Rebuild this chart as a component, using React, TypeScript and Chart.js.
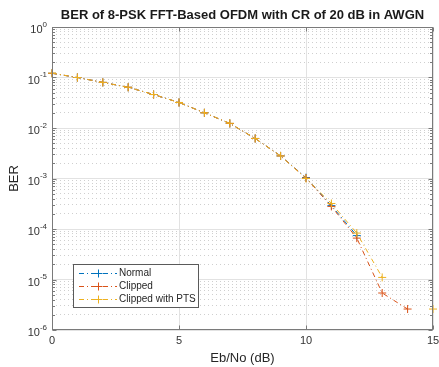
import React, { useEffect, useRef } from 'react';
import { Chart, registerables } from 'chart.js';

Chart.register(...registerables);

// ---- data ----
const ebNo = [0, 1, 2, 3, 4, 5, 6, 7, 8, 9, 10, 11, 12, 13, 14, 15];
const berNormal = [0.121, 0.1, 0.08, 0.064, 0.046, 0.032, 0.02, 0.0123, 0.0062, 0.0028, 0.00104, 0.00029, 0.000074, null, null, null];
const berClipped = [0.121, 0.1, 0.08, 0.064, 0.046, 0.032, 0.02, 0.0123, 0.0062, 0.0028, 0.00102, 0.00028, 0.000066, 0.0000054, 0.0000026, null];
const berPts = [0.122, 0.1, 0.08, 0.064, 0.046, 0.032, 0.02, 0.0124, 0.0062, 0.0028, 0.001, 0.00032, 0.000083, 0.000011, null, 0.0000026];

const seriesNames = ['Normal', 'Clipped', 'Clipped with PTS'];
const seriesColors = ['#0072BD', '#D95319', '#EDB120'];

const xTickValues = [0, 5, 10, 15];
const yTickExponents = [-6, -5, -4, -3, -2, -1, 0];
const yMinorMultipliers = [2, 3, 4, 5, 6, 7, 8, 9];

const titleText = 'BER of 8-PSK FFT-Based OFDM with CR of 20 dB in AWGN';
const xLabel = 'Eb/No (dB)';
const yLabel = 'BER';

const FONT = '"Liberation Sans", Arial, Helvetica, sans-serif';
const DASH = [5, 3, 1, 3];

const yMajorValues = yTickExponents.map((e) => Math.pow(10, e));
const yMinorValues: number[] = [];
yTickExponents.slice(0, -1).forEach((e) => {
  yMinorMultipliers.forEach((m) => yMinorValues.push(m * Math.pow(10, e)));
});

const drawCross = (ctx: CanvasRenderingContext2D, x: number, y: number, r: number) => {
  ctx.beginPath();
  ctx.moveTo(x - r, y);
  ctx.lineTo(x + r, y);
  ctx.moveTo(x, y - r);
  ctx.lineTo(x, y + r);
  ctx.stroke();
};

const matlabPlugin = {
  id: 'matlabLook',
  afterDatasetsDraw(chart: any) {
    const { ctx, chartArea: a, scales } = chart;
    const xs = scales.x;
    const ys = scales.y;
    ctx.save();
    ctx.strokeStyle = '#7a7a7a';
    ctx.lineWidth = 1;
    ctx.setLineDash([]);
    const L = Math.round(a.left) + 0.5;
    const R = Math.round(a.right) - 0.5;
    const T = Math.round(a.top) + 0.5;
    const B = Math.round(a.bottom) - 0.5;
    ctx.strokeRect(L, T, R - L, B - T);
    ctx.beginPath();
    xTickValues.forEach((v) => {
      const px = Math.round(xs.getPixelForValue(v)) + 0.5;
      ctx.moveTo(px, B);
      ctx.lineTo(px, B - 4);
      ctx.moveTo(px, T);
      ctx.lineTo(px, T + 4);
    });
    yMajorValues.forEach((v) => {
      const py = Math.round(ys.getPixelForValue(v)) + 0.5;
      ctx.moveTo(L, py);
      ctx.lineTo(L + 4, py);
      ctx.moveTo(R, py);
      ctx.lineTo(R - 4, py);
    });
    yMinorValues.forEach((v) => {
      const py = Math.round(ys.getPixelForValue(v)) + 0.5;
      ctx.moveTo(L, py);
      ctx.lineTo(L + 2.5, py);
      ctx.moveTo(R, py);
      ctx.lineTo(R - 2.5, py);
    });
    ctx.stroke();
    ctx.restore();
  },
  afterDraw(chart: any) {
    const { ctx, chartArea: a, scales } = chart;
    const xs = scales.x;
    const ys = scales.y;
    ctx.save();
    // title
    ctx.fillStyle = '#1a1a1a';
    ctx.font = `bold 13px ${FONT}`;
    ctx.textAlign = 'center';
    ctx.textBaseline = 'middle';
    ctx.fillText(titleText, (a.left + a.right) / 2, 15);
    // x tick labels
    ctx.fillStyle = '#333333';
    ctx.font = `11px ${FONT}`;
    xTickValues.forEach((v) => {
      ctx.fillText(String(v), xs.getPixelForValue(v), a.bottom + 11);
    });
    // y tick labels 10^k
    yTickExponents.forEach((e, i) => {
      const py = ys.getPixelForValue(yMajorValues[i]);
      const expStr = e < 0 ? '-' + String(-e) : String(e);
      ctx.font = `8px ${FONT}`;
      const we = ctx.measureText(expStr).width;
      ctx.font = `11px ${FONT}`;
      const wb = ctx.measureText('10').width;
      const right = a.left - 5;
      ctx.textAlign = 'left';
      ctx.textBaseline = 'alphabetic';
      ctx.fillText('10', right - we - wb, py + 6);
      ctx.font = `8px ${FONT}`;
      ctx.fillText(expStr, right - we, py - 0.5);
    });
    // axis labels
    ctx.fillStyle = '#262626';
    ctx.font = `13px ${FONT}`;
    ctx.textAlign = 'center';
    ctx.textBaseline = 'middle';
    ctx.fillText(xLabel, (a.left + a.right) / 2, 358);
    ctx.save();
    ctx.translate(14, (a.top + a.bottom) / 2);
    ctx.rotate(-Math.PI / 2);
    ctx.fillText(yLabel, 0, 0);
    ctx.restore();
    // legend
    const bx = 73.5, by = 264.5, bw = 125, bh = 43;
    ctx.fillStyle = '#ffffff';
    ctx.fillRect(bx, by, bw, bh);
    ctx.strokeStyle = '#5a5a5a';
    ctx.lineWidth = 1;
    ctx.strokeRect(bx, by, bw, bh);
    const rows = [273, 286, 299];
    chart.data.datasets.forEach((ds: any, i: number) => {
      const yy = rows[i] + 0.5;
      ctx.strokeStyle = ds.borderColor;
      ctx.lineWidth = 1;
      ctx.setLineDash(DASH);
      ctx.beginPath();
      ctx.moveTo(79, yy);
      ctx.lineTo(117, yy);
      ctx.stroke();
      ctx.setLineDash([]);
      drawCross(ctx, 98.5, yy, 4);
      ctx.fillStyle = '#262626';
      ctx.font = `10px ${FONT}`;
      ctx.textAlign = 'left';
      ctx.textBaseline = 'middle';
      ctx.fillText(ds.label, 119, yy);
    });
    ctx.restore();
  },
};

const seriesData = [berNormal, berClipped, berPts];

export default function App() {
  const ref = useRef<HTMLCanvasElement | null>(null);
  useEffect(() => {
    if (!ref.current) return;
    const chart = new Chart(ref.current, {
      type: 'line',
      data: {
        datasets: seriesData.map((arr, i) => ({
          label: seriesNames[i],
          data: ebNo.map((x, j) => ({ x, y: arr[j] })),
          order: seriesData.length - i,
          borderColor: seriesColors[i],
          backgroundColor: seriesColors[i],
          borderWidth: 1,
          borderDash: DASH,
          pointStyle: 'cross',
          pointRadius: 4,
          pointBorderWidth: 1,
          pointBorderColor: seriesColors[i],
          tension: 0,
          spanGaps: false,
          clip: false,
          fill: false,
        })),
      },
      options: {
        animation: false,
        responsive: false,
        layout: { padding: { left: 52, right: 6, top: 27, bottom: 37 } },
        plugins: { legend: { display: false }, title: { display: false }, tooltip: { enabled: false } },
        scales: {
          x: {
            type: 'linear',
            min: 0,
            max: 15,
            afterBuildTicks: (s: any) => {
              s.ticks = xTickValues.map((v) => ({ value: v }));
            },
            ticks: { display: false },
            grid: { color: '#e2e2e2', lineWidth: 1, drawTicks: false },
            border: { display: false },
          },
          y: {
            type: 'logarithmic',
            min: 1e-6,
            max: 1,
            afterBuildTicks: (s: any) => {
              s.ticks = yMajorValues.map((v) => ({ value: v, major: true }));
            },
            ticks: { display: false },
            grid: { color: '#e2e2e2', lineWidth: 1, drawTicks: false },
            border: { display: false },
          },
          yMinor: {
            type: 'logarithmic',
            position: 'left',
            min: 1e-6,
            max: 1,
            afterBuildTicks: (s: any) => {
              s.ticks = yMinorValues.map((v) => ({ value: v }));
            },
            ticks: { display: false },
            grid: { color: '#cfcfcf', lineWidth: 1, drawTicks: false },
            border: { display: false, dash: [1, 3] },
          },
        },
      },
      plugins: [matlabPlugin],
    } as any);
    return () => chart.destroy();
  }, []);
  return (
    <div style={{ position: 'fixed', left: 0, top: 0, width: 439, height: 367, background: '#fff' }}>
      <canvas ref={ref} width={439} height={367} style={{ display: 'block' }} />
    </div>
  );
}
